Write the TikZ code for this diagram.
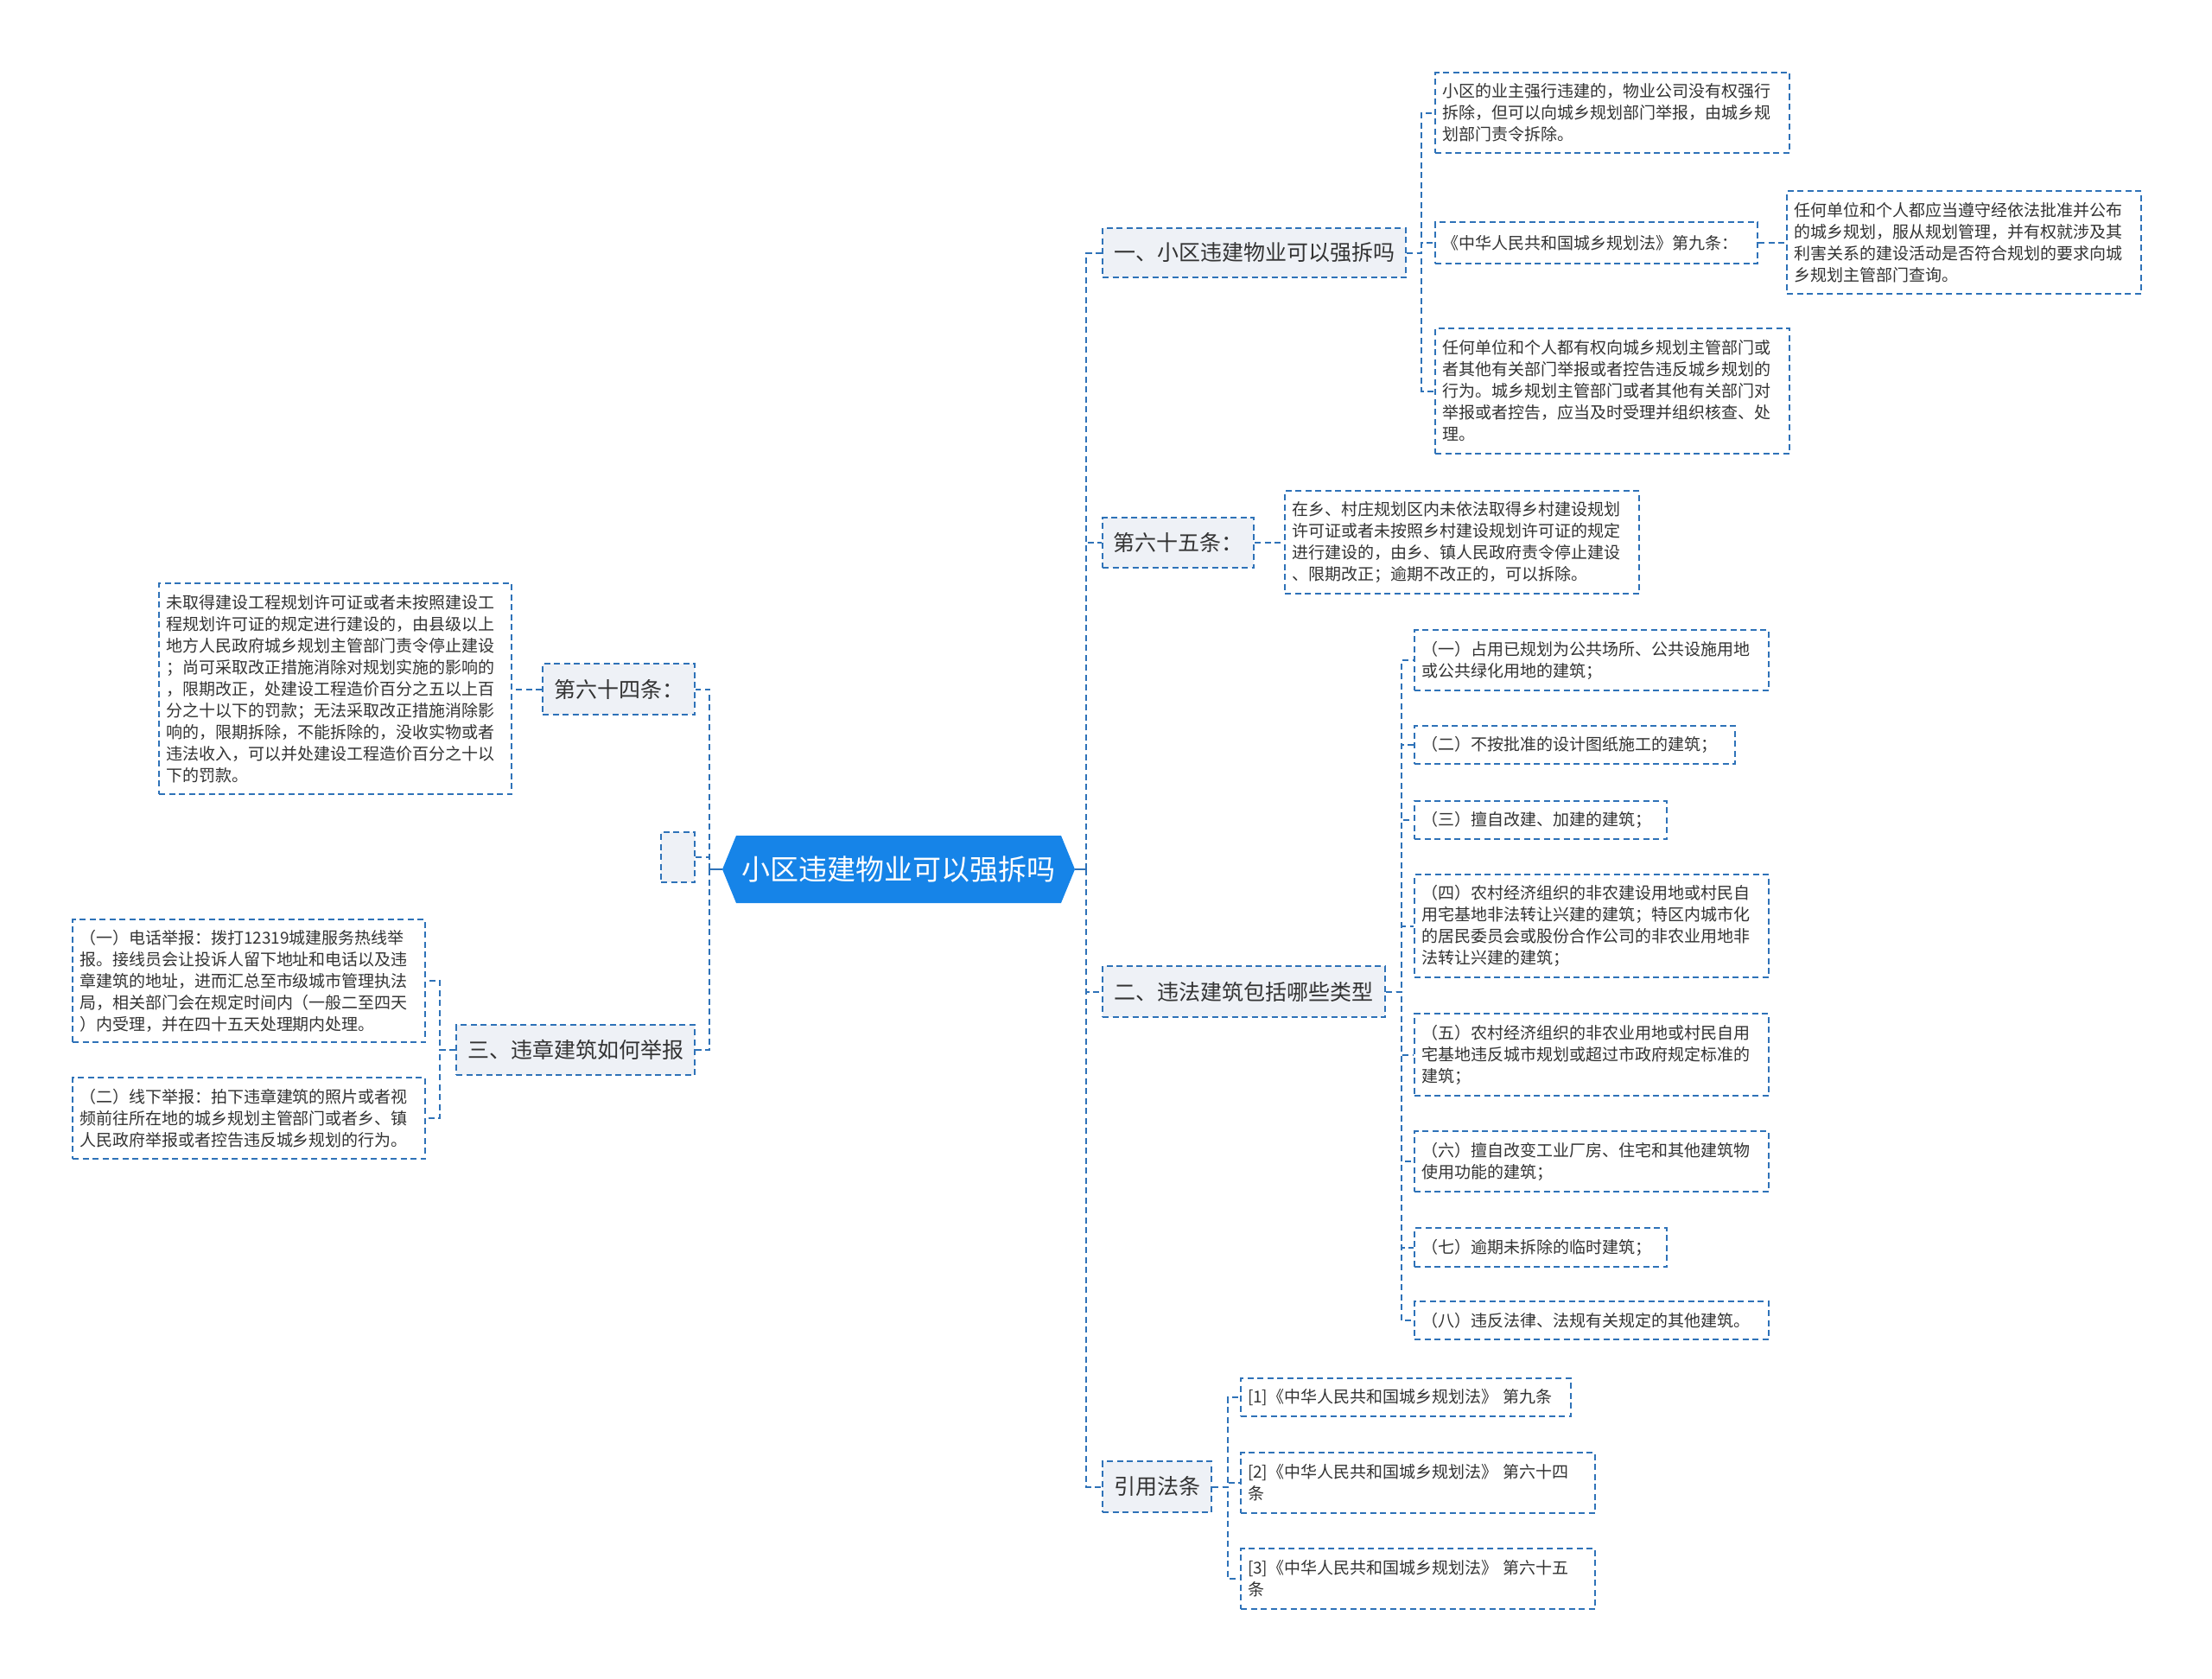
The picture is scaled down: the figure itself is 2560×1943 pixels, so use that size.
\documentclass[tikz,border=0pt]{standalone}
\usepackage{fontspec}
\setmainfont{Noto Sans CJK SC}
\usetikzlibrary{calc}
\definecolor{linec}{RGB}{46,114,184}
\definecolor{rootc}{RGB}{22,132,232}
\definecolor{grayf}{RGB}{238,241,246}
\definecolor{txt}{RGB}{51,51,51}
\begin{document}
\begin{tikzpicture}[x=1pt,y=-1pt,
  dashline/.style={draw=linec, line width=2pt, dash pattern=on 7pt off 4.5pt},
  solidline/.style={draw=linec, line width=2pt},
  leaf/.style={dashline, anchor=north west, inner xsep=8pt, inner ysep=0pt, align=left, text=txt, font=\fontsize{19}{25}\selectfont},
  lvl/.style={dashline, fill=grayf, anchor=north west, inner sep=0pt, align=center, text=txt, font=\fontsize{25}{30}\selectfont},
  conn/.style={dashline}]
\useasboundingbox (0,0) rectangle (2560,1943);
\fill[white] (0,0) rectangle (2560,1943);

% root
\coordinate (rc) at (1040,1006);
\fill[rootc] ($(rc)+(-204,0)$) -- ($(rc)+(-188,-39)$) -- ($(rc)+(188,-39)$) -- ($(rc)+(204,0)$) -- ($(rc)+(188,39)$) -- ($(rc)+(-188,39)$) -- cycle;
\node[inner sep=0pt, minimum width=408pt, minimum height=78pt, text=white, font=\fontsize{33}{38}\selectfont] (root) at (rc) {小区违建物业可以强拆吗};

% level 1 right
\node[lvl, minimum width=351pt, minimum height=57pt] (A) at (1275,263) {一、小区违建物业可以强拆吗};
\node[lvl, minimum width=175pt, minimum height=58pt] (B) at (1275,598) {第六十五条：};
\node[lvl, minimum width=327pt, minimum height=59pt] (C) at (1275,1117) {二、违法建筑包括哪些类型};
\node[lvl, minimum width=126pt, minimum height=59pt] (D) at (1275,1690) {引用法条};
% level 1 left
\node[lvl, minimum width=176pt, minimum height=59pt] (E) at (627,767) {第六十四条：};
\node[lvl, minimum width=39pt, minimum height=58pt] (F) at (764,962) {};
\node[lvl, minimum width=276pt, minimum height=58pt] (G) at (527,1185) {三、违章建筑如何举报};

% leaves A
\node[leaf, text width=394pt, minimum height=93pt] (A1) at (1660,83) {小区的业主强行违建的，物业公司没有权强行\\拆除，但可以向城乡规划部门举报，由城乡规\\划部门责令拆除。};
\node[leaf, text width=357pt, minimum height=48pt] (A2) at (1660,256) {《中华人民共和国城乡规划法》第九条：};
\node[leaf, text width=394pt, minimum height=145pt] (A3) at (1660,379) {任何单位和个人都有权向城乡规划主管部门或\\者其他有关部门举报或者控告违反城乡规划的\\行为。城乡规划主管部门或者其他有关部门对\\举报或者控告，应当及时受理并组织核查、处\\理。};
\node[leaf, text width=394pt, minimum height=119pt] (A2a) at (2067,220) {任何单位和个人都应当遵守经依法批准并公布\\的城乡规划，服从规划管理，并有权就涉及其\\利害关系的建设活动是否符合规划的要求向城\\乡规划主管部门查询。};
% leaf B
\node[leaf, text width=394pt, minimum height=119pt] (B1) at (1486,567) {在乡、村庄规划区内未依法取得乡村建设规划\\许可证或者未按照乡村建设规划许可证的规定\\进行建设的，由乡、镇人民政府责令停止建设\\、限期改正；逾期不改正的，可以拆除。};
% leaves C
\node[leaf, text width=394pt, minimum height=70pt] (C1) at (1636,728) {（一）占用已规划为公共场所、公共设施用地\\或公共绿化用地的建筑；};
\node[leaf, text width=355pt, minimum height=44pt] (C2) at (1636,839) {（二）不按批准的设计图纸施工的建筑；};
\node[leaf, text width=276pt, minimum height=44pt] (C3) at (1636,926) {（三）擅自改建、加建的建筑；};
\node[leaf, text width=394pt, minimum height=119pt] (C4) at (1636,1011) {（四）农村经济组织的非农建设用地或村民自\\用宅基地非法转让兴建的建筑；特区内城市化\\的居民委员会或股份合作公司的非农业用地非\\法转让兴建的建筑；};
\node[leaf, text width=394pt, minimum height=95pt] (C5) at (1636,1172) {（五）农村经济组织的非农业用地或村民自用\\宅基地违反城市规划或超过市政府规定标准的\\建筑；};
\node[leaf, text width=394pt, minimum height=70pt] (C6) at (1636,1308) {（六）擅自改变工业厂房、住宅和其他建筑物\\使用功能的建筑；};
\node[leaf, text width=276pt, minimum height=45pt] (C7) at (1636,1420) {（七）逾期未拆除的临时建筑；};
\node[leaf, text width=394pt, minimum height=44pt] (C8) at (1636,1505) {（八）违反法律、法规有关规定的其他建筑。};
% leaves D
\node[leaf, text width=366pt, minimum height=44pt] (D1) at (1435,1594) {[1]《中华人民共和国城乡规划法》 第九条};
\node[leaf, text width=394pt, minimum height=70pt] (D2) at (1435,1680) {[2]《中华人民共和国城乡规划法》 第六十四\\条};
\node[leaf, text width=394pt, minimum height=70pt] (D3) at (1435,1791) {[3]《中华人民共和国城乡规划法》 第六十五\\条};
% leaf E
\node[leaf, text width=392pt, minimum height=244pt] (E1) at (183,674) {未取得建设工程规划许可证或者未按照建设工\\程规划许可证的规定进行建设的，由县级以上\\地方人民政府城乡规划主管部门责令停止建设\\；尚可采取改正措施消除对规划实施的影响的\\，限期改正，处建设工程造价百分之五以上百\\分之十以下的罚款；无法采取改正措施消除影\\响的，限期拆除，不能拆除的，没收实物或者\\违法收入，可以并处建设工程造价百分之十以\\下的罚款。};
% leaves G
\node[leaf, text width=392pt, minimum height=142pt] (G1) at (83,1063) {（一）电话举报：拨打12319城建服务热线举\\报。接线员会让投诉人留下地址和电话以及违\\章建筑的地址，进而汇总至市级城市管理执法\\局，相关部门会在规定时间内（一般二至四天\\）内受理，并在四十五天处理期内处理。};
\node[leaf, text width=392pt, minimum height=94pt] (G2) at (83,1246) {（二）线下举报：拍下违章建筑的照片或者视\\频前往所在地的城乡规划主管部门或者乡、镇\\人民政府举报或者控告违反城乡规划的行为。};

% root connectors
\coordinate (rt) at (1257,1006);
\coordinate (lt) at (821,1006);
\draw[solidline] (root.east) -- (rt);
\draw[solidline] (root.west) -- (lt);
\foreach \n in {A,B,C,D} \draw[conn] (rt) |- (\n.west);
\foreach \n in {E,F,G} \draw[conn] (lt) |- (\n.east);

% A children
\foreach \n in {A1,A2,A3} \draw[conn] (A.east) -- ++(17,0) |- (\n.west);
\draw[conn] (A2.east) -- (A2.east -| A2a.west);
% B child
\draw[conn] (B.east) -- (B.east -| B1.west);
% C children
\foreach \n in {C1,C2,C3,C4,C5,C6,C7,C8} \draw[conn] (C.east) -- ++(18,0) |- (\n.west);
% D children
\foreach \n in {D1,D2,D3} \draw[conn] (D.east) -- ++(18,0) |- (\n.west);
% E child
\draw[conn] (E.west) -- (E.west -| E1.east);
% G children
\foreach \n in {G1,G2} \draw[conn] (G.west) -- ++(-18,0) |- (\n.east);
\end{tikzpicture}
\end{document}
